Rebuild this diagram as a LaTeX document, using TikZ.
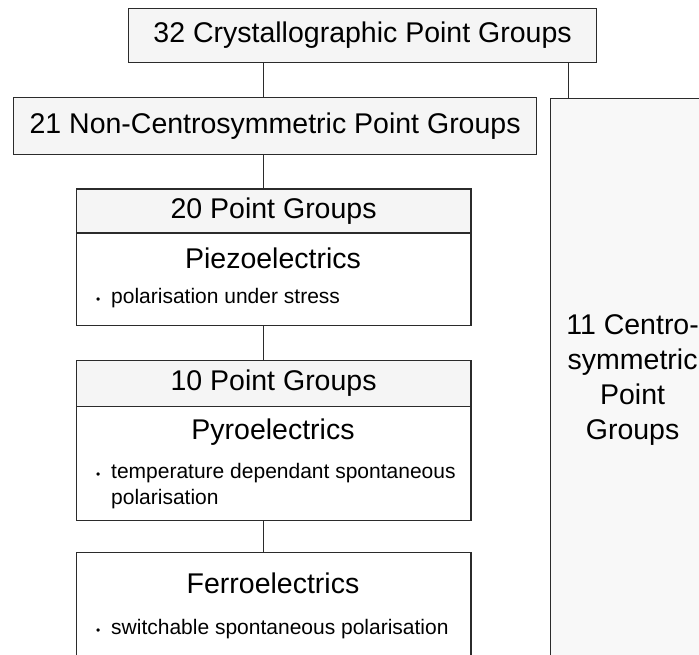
\documentclass[tikz,border=0pt]{standalone}
\usepackage{fontspec}
\setmainfont{Liberation Sans}
\definecolor{edge}{HTML}{2B2B2B}
\definecolor{headfill}{HTML}{F5F5F5}
\definecolor{sidefill}{HTML}{F8F8F8}
\begin{document}
\begin{tikzpicture}[x=1pt,y=-1pt,
  box/.style={draw=edge,line width=1.2pt,rectangle,inner sep=0pt,anchor=north west},
  headbox/.style={box,fill=headfill,font=\fontsize{28.5}{34}\selectfont},
  bodybox/.style={box,fill=white},
  titletext/.style={inner sep=0pt,font=\fontsize{28.5}{34}\selectfont},
  itemtext/.style={inner sep=0pt,anchor=west,align=left,font=\fontsize{21}{26}\selectfont},
  link/.style={draw=edge,line width=1.2pt}]
\useasboundingbox (0,0) rectangle (699,654);
\clip (0,0) rectangle (699,654);

% top level and the two main branches
\node[headbox,minimum width=468pt,minimum height=54pt] (top) at (128,8)
  {32 Crystallographic Point Groups};
\node[headbox,minimum width=523pt,minimum height=57pt] (noncentro) at (13,96.7)
  {21 Non-Centrosymmetric Point Groups};
\node[box,fill=sidefill,minimum width=164pt,minimum height=563pt,align=center,
  font=\fontsize{28.5}{35}\selectfont] (centro) at (550,97.7)
  {11 Centro-\\symmetric\\Point\\Groups};

% piezoelectrics
\node[headbox,minimum width=394.6pt,minimum height=44pt] (h20) at (75.7,188.3)
  {20 Point Groups};
\node[bodybox,minimum width=394.6pt,minimum height=92.7pt] (b20) at (75.7,232.3) {};
\node[titletext] (piezo) at (273,258) {Piezoelectrics};
\node[itemtext] (piezoitem) at (96,298)
  {\makebox[15pt][l]{\fontsize{12}{12}\selectfont\textbullet}polarisation under stress};

% pyroelectrics
\node[headbox,minimum width=394.6pt,minimum height=45.7pt] (h10) at (75.7,360)
  {10 Point Groups};
\node[bodybox,minimum width=394.6pt,minimum height=114.3pt] (b10) at (75.7,405.7) {};
\node[titletext] (pyro) at (273,431.7) {Pyroelectrics};
\node[itemtext,anchor=north west] (pyroitem) at (96,460)
  {\begin{tabular}{@{}p{15pt}@{}l@{}}{\fontsize{12}{12}\selectfont\textbullet} & temperature dependant spontaneous\\ & polarisation\end{tabular}};

% ferroelectrics
\node[bodybox,minimum width=394.6pt,minimum height=130pt] (ferro) at (75.7,551.7) {};
\node[titletext] (ferrotitle) at (273,583) {Ferroelectrics};
\node[itemtext] (ferroitem) at (96,629)
  {\makebox[15pt][l]{\fontsize{12}{12}\selectfont\textbullet}switchable spontaneous polarisation};

% connectors
\coordinate (trunk) at (263.5,0);
\coordinate (branch) at (568.3,0);
\draw[link] (top.south -| trunk) -- (noncentro.north -| trunk);
\draw[link] (top.south -| branch) -- (centro.north -| branch);
\draw[link] (noncentro.south -| trunk) -- (h20.north -| trunk);
\draw[link] (b20.south -| trunk) -- (h10.north -| trunk);
\draw[link] (b10.south -| trunk) -- (ferro.north -| trunk);
\end{tikzpicture}
\end{document}
